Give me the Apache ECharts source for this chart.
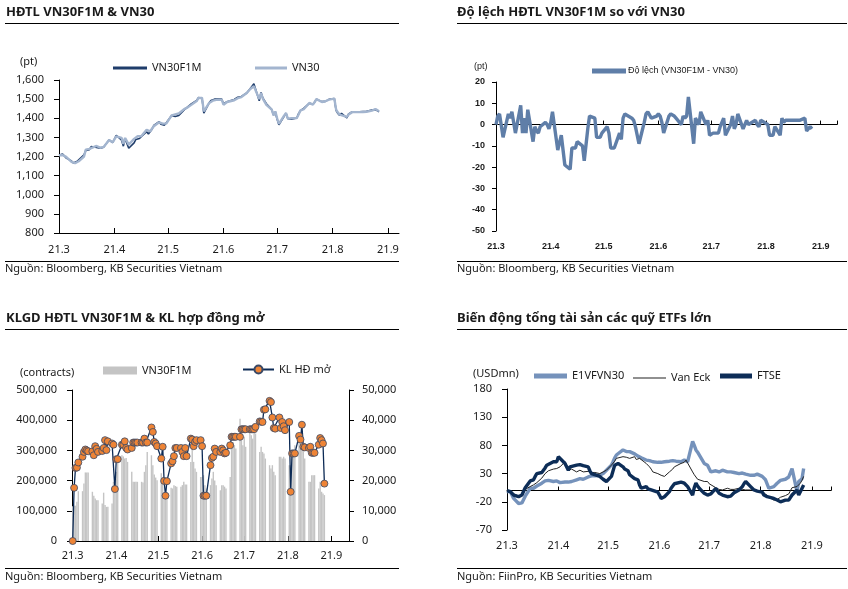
<!DOCTYPE html>
<html><head><meta charset="utf-8">
<script src="https://cdn.jsdelivr.net/npm/echarts@6/dist/echarts.min.js"></script>
<style>html,body{margin:0;padding:0;background:#fff}#c{width:848px;height:589px}</style>
</head><body><div id="c"></div><script>
// ---------- DATA (trading days 2021-03-01 .. 2021-08-27) ----------
const startDate = '2021-03-01';
const endDate = '2021-08-27';
const monthTicks = ['21.3','21.4','21.5','21.6','21.7','21.8','21.9'];

// Panel 1: VN30F1M & VN30 (pt)
const vn30f1m = [
 1206,1214,1213,1208,1192,1177,1166,1171,1174,1171,1209,1232,1241,1236,1252,1247,1249,1243,1244,1249,1287,1280,1272,
 1273,1311,1285,1254,1292,1285,1243,1271,1289,1295,1294,1298,1330,1318,1314,1343,1362,1382,1369,1366,1364,1368,
 1414,1414,1409,1411,1414,1444,1445,1460,1467,1475,1493,1508,1507,1505,1427,1481,1493,1498,1500,1499,1501,
 1476,1482,1486,1483,1498,1502,1510,1512,1514,1532,1544,1556,1564,1580,1491,1535,1506,1497,1476,1445,1417,1431,
 1395,1366,1411,1426,1397,1403,1395,1401,1424,1439,1445,1453,1478,1470,1473,1485,1500,1487,1488,1488,1494,1499,
 1503,1440,1425,1414,1426,1402,1423,1431,1434,1432,1434,1434,1435,1438,1436,1443,1442,1445,1445,1434];
const vn30 = [
 1206,1210,1208,1203,1198,1172,1163,1165,1168,1175,1200,1236,1238,1240,1245,1255,1250,1246,1248,1250,1286,1280,1274,
 1272,1305,1297,1266,1297,1290,1262,1292,1300,1306,1305,1306,1340,1335,1331,1345,1358,1379,1375,1372,1370,1372,
 1415,1418,1420,1422,1425,1448,1452,1457,1462,1470,1490,1506,1508,1506,1436,1480,1488,1492,1494,1496,1497,
 1471,1478,1485,1487,1494,1497,1505,1508,1511,1532,1540,1553,1560,1567,1500,1532,1503,1497,1470,1445,1415,1436,
 1400,1370,1415,1427,1398,1400,1400,1401,1420,1441,1445,1448,1480,1472,1471,1485,1500,1485,1488,1489,1492,1497,
 1503,1445,1430,1419,1427,1407,1420,1430,1432,1430,1432,1432,1433,1436,1434,1440,1445,1448,1446,1436];

// Panel 2: basis VN30F1M - VN30 (pt)
const basis = [
 0,4,5,5,-6,5,3,6,6,-4,9,-4,3,-4,7,-8,-1,-3,-4,-1,1,0,-2,
 1,6,-12,-12,-5,-5,-19,-21,-11,-11,-11,-8,-10,-17,-17,-2,4,3,-6,-6,-6,-4,
 -1,-4,-11,-11,-11,-4,-7,3,5,5,3,2,-1,-1,-9,1,5,6,6,3,4,
 5,4,1,-4,4,5,5,4,3,0,4,3,4,13,-9,3,3,0,6,0,2,-5,
 -5,-4,-4,-1,-1,3,-5,0,4,-2,0,5,-2,-2,2,0,0,2,0,-1,2,2,
 0,-5,-5,-5,-1,-5,3,1,2,2,2,2,2,2,2,3,-3,-3,-1,-2];

// Panel 3: VN30F1M volume (contracts, left axis) & open interest (right axis)
const volume = [
 115e3,117e3,117e3,130e3,165e3,165e3,190e3,227e3,227e3,227e3,163e3,150e3,141e3,135e3,135e3,124e3,160e3,119e3,113e3,113e3,124e3,196e3,196e3,
 229e3,262e3,284e3,280e3,273e3,275e3,262e3,229e3,196e3,196e3,196e3,196e3,196e3,194e3,229e3,251e3,295e3,284e3,251e3,220e3,210e3,201e3,
 224e3,212e3,152e3,141e3,152e3,176e3,174e3,185e3,182e3,180e3,180e3,185e3,196e3,187e3,187e3,262e3,306e3,262e3,240e3,229e3,212e3,
 212e3,218e3,185e3,174e3,185e3,207e3,229e3,200e3,185e3,168e3,185e3,185e3,180e3,174e3,212e3,306e3,328e3,317e3,306e3,405e3,334e3,317e3,
 345e3,312e3,361e3,350e3,339e3,361e3,356e3,295e3,312e3,295e3,290e3,273e3,251e3,240e3,251e3,229e3,218e3,279e3,279e3,273e3,279e3,273e3,
 251e3,251e3,279e3,295e3,317e3,356e3,339e3,312e3,306e3,273e3,196e3,196e3,218e3,218e3,218e3,174e3,196e3,163e3,157e3,152e3];
const openInterest = [
 0,17600,24200,24300,26000,27900,29500,30300,30000,29700,29700,28400,31400,30500,29500,29800,30800,33400,30100,33000,32300,31900,17200,
 27100,27100,31900,31900,33000,30800,30300,30800,32600,32600,32600,32600,32600,32600,33900,32600,32600,37600,36100,32800,32300,31400,
 27300,31200,19900,15000,19800,25700,26400,28100,30800,30800,30800,29500,28100,30800,28100,33900,33600,31400,32800,33400,33400,
 31400,15000,15000,15000,25100,27500,27900,30600,29500,29500,30600,30000,29000,29200,31700,34500,34500,34500,34500,34500,37000,37000,
 37000,37000,37000,37000,37000,37000,37800,39600,39500,39400,43500,43600,46400,46000,40900,37400,37200,40900,37400,39400,38000,36700,
 39400,16300,29000,29000,29000,34800,33600,38500,31200,31000,30800,31200,29200,29200,29200,31900,34100,33400,32300,19000];

// Panel 4: ETF total asset change (USDmn)
const e1vfvn30 = [
 -2,-2,-2,-8,-14,-23,-24,-22,-20,-10,4,4,4,4,8,13,14,17,19,18,16,16,17,
 17,14,15,13,15,17,16,19,20,21,20,20,24,25,26,27,26,27,28,30,33,36,
 45,51,58,63,66,72,70,69,69,69,65,63,61,60,58,54,54,53,52,51,50,
 49,50,51,51,52,53,53,52,52,51,52,54,51,51,87,80,72,68,66,48,48,45,
 42,33,35,34,33,34,36,33,32,33,33,32,30,30,31,30,29,27,27,27,28,29,
 25,22,19,16,4,7,10,13,16,18,20,21,24,27,39,-2,16,18,21,39];
const vanEck = [
 0,0,-1,-3,-6,-10,-8,-5,-2,2,7,8,10,12,14,22,25,30,33,35,38,39,39,
 40,42,51,45,36,37,38,33,35,36,34,33,34,36,32,30,32,30,32,33,35,36,
 45,48,52,57,59,60,59,59,58,57,60,55,56,57,54,48,45,42,38,33,30,
 28,27,26,25,33,35,38,42,44,48,49,50,54,52,33,28,25,20,19,16,16,16,
 12,10,5,4,2,1,1,4,3,2,1,2,4,3,2,2,1,1,1,1,0,0,
 -2,-4,-6,-8,-12,-17,-17,-16,-14,-12,-9,-8,-6,-5,5,7,10,13,18,25];
const ftse = [
 0,0,-2,-5,-8,-11,-10,-8,-5,5,17,18,19,25,30,32,33,40,45,47,51,51,51,
 60,61,48,45,36,42,45,45,45,46,47,44,42,35,30,29,28,25,23,20,17,16,
 25,35,45,47,48,42,38,36,35,28,21,20,19,10,4,7,3,1,1,1,-3,
 -8,-14,-17,-11,-2,4,7,12,14,15,13,13,10,7,-8,5,13,8,4,-5,-8,-8,
 -8,-6,4,-1,-5,-7,-8,-11,-11,-10,-8,-4,1,4,7,12,16,7,4,1,-2,-1,
 -3,-8,-9,-11,-13,-14,-15,-17,-18,-20,-17,-17,-17,-16,-8,1,-8,-2,-2,10];

// ---------- trading-day categories ----------
function tradingDays(a, b) {
  const out = [];
  const d = new Date(a + 'T00:00:00Z'), e = new Date(b + 'T00:00:00Z');
  while (d <= e) {
    const w = d.getUTCDay();
    if (w !== 0 && w !== 6) out.push(d.toISOString().slice(0, 10));
    d.setUTCDate(d.getUTCDate() + 1);
  }
  return out;
}
const dates = tradingDays(startDate, endDate);
const pairs = arr => dates.map((d, i) => [d, arr[i]]);

// ---------- styling ----------
const FONT = '"Noto Sans", sans-serif';
const TXT = '#1a1a1a';
const monthLabel = v => { const d = new Date(v); return monthTicks[d.getMonth() - 2] || ''; };
const comma = v => Number(v).toLocaleString('en-US');
const DAY = 86400000;

function timeAxis(grid, max, extra) {
  return Object.assign({
    type: 'time', gridIndex: grid, min: startDate, max: max,
    splitNumber: 6, minInterval: 28 * DAY, maxInterval: 31 * DAY,
    axisLine: { show: true, onZero: false, lineStyle: { color: '#000', width: 1 } },
    axisTick: { show: true, inside: true, length: 5, lineStyle: { color: '#000' } },
    axisLabel: { formatter: monthLabel, color: TXT, fontSize: 11, fontFamily: FONT, margin: 10, hideOverlap: false },
    splitLine: { show: false }, minorTick: { show: false }
  }, extra || {});
}
function valAxis(grid, min, max, interval, extra) {
  return Object.assign({
    type: 'value', gridIndex: grid, min, max, interval,
    axisLine: { show: true, lineStyle: { color: '#000', width: 1 } },
    axisTick: { show: true, inside: false, length: 5, lineStyle: { color: '#000' } },
    axisLabel: { color: TXT, fontSize: 11, fontFamily: FONT, margin: 15 },
    splitLine: { show: false }
  }, extra || {});
}
const p2Label = { color: TXT, fontSize: 9, fontFamily: '"Liberation Sans", Arial, sans-serif', fontWeight: 'bold' };

const graphicText = (x, y, text, font) => ({
  type: 'text', x, y, silent: true,
  style: { text, font, fill: TXT, verticalAlign: 'middle', align: 'left' }
});
const rule = (x1, x2, y) => ({ type: 'line', silent: true, shape: { x1, y1: y, x2, y2: y }, style: { stroke: '#000', lineWidth: 1 } });
const TITLE = 'bold 13px "Noto Sans"';
const SRC = '11px "Noto Sans"';
const LEG_TEXT = { fontSize: 11, fontFamily: FONT, color: TXT };
// one legend component per item, line samples drawn as thin rectangles
function lineLegend(name, left, centerY, width, thick, text) {
  return { left, top: centerY - thick / 2, itemWidth: width, itemHeight: thick, itemGap: 0,
    data: [{ name, icon: 'rect' }], textStyle: text || LEG_TEXT, padding: 0 };
}

const C_F1M = '#1f3d6b', C_VN30 = '#a3b5cf', C_DEV = '#5f7ea8', C_E1 = '#7592bb', C_VE = '#222', C_FTSE = '#0d2d57';

const option = {
  animation: false,
  backgroundColor: '#fff',
  textStyle: { fontFamily: FONT },
  grid: [
    { left: 59, top: 80, width: 340, height: 153, outerBoundsMode: 'none', containLabel: false },
    { left: 496, top: 82, width: 341, height: 149, outerBoundsMode: 'none', containLabel: false },
    { left: 72, top: 390, width: 277, height: 151, outerBoundsMode: 'none', containLabel: false },
    { left: 507, top: 389, width: 324, height: 141, outerBoundsMode: 'none', containLabel: false }
  ],
  xAxis: [
    timeAxis(0, '2021-09-07 04:00', { axisLabel: { formatter: monthLabel, color: TXT, fontSize: 11, fontFamily: FONT, margin: 11 } }),
    timeAxis(1, '2021-09-10 05:00', {
      position: 'bottom', axisLine: { show: false, onZero: false }, axisTick: { show: false },
      axisLabel: Object.assign({ formatter: monthLabel, margin: 11 }, p2Label)
    }),
    timeAxis(1, '2021-09-10 05:00', {
      position: 'top', axisLine: { show: true, onZero: true, lineStyle: { color: '#000', width: 1 } },
      axisTick: { show: true, inside: false, length: 4, lineStyle: { color: '#000' } }, axisLabel: { show: false }
    }),
    timeAxis(2, '2021-09-13 00:00', { axisLabel: { formatter: monthLabel, color: TXT, fontSize: 11, fontFamily: FONT, margin: 9 } }),
    timeAxis(3, '2021-09-12 12:00', {
      position: 'bottom', axisLine: { show: false, onZero: false }, axisTick: { show: false },
      axisLabel: { formatter: monthLabel, color: TXT, fontSize: 11, fontFamily: FONT, margin: 10 }
    }),
    timeAxis(3, '2021-09-12 12:00', {
      position: 'top', axisLine: { show: true, onZero: true, lineStyle: { color: '#000', width: 1 } },
      axisTick: { show: true, inside: false, length: 4, lineStyle: { color: '#000' } }, axisLabel: { show: false }
    })
  ],
  yAxis: [
    valAxis(0, 800, 1600, 100, { axisLabel: { color: TXT, fontSize: 11, fontFamily: FONT, margin: 15, formatter: comma } }),
    valAxis(1, -50, 20, 10, { axisTick: { show: true, length: 4, lineStyle: { color: '#000' } }, axisLabel: Object.assign({ margin: 11 }, p2Label) }),
    valAxis(2, 0, 500000, 100000, { position: 'left', axisLabel: { color: TXT, fontSize: 11, fontFamily: FONT, margin: 15, formatter: comma } }),
    valAxis(2, 0, 50000, 10000, { position: 'right', axisLabel: { color: TXT, fontSize: 11, fontFamily: FONT, margin: 13, formatter: comma } }),
    valAxis(3, -70, 180, 50, { axisLabel: { color: TXT, fontSize: 11, fontFamily: FONT, margin: 15 } })
  ],
  legend: [
    lineLegend('VN30F1M', 113, 64, 34, 3),
    lineLegend('VN30', 255, 64, 32, 3),
    lineLegend('Độ lệch (VN30F1M - VN30)', 592, 69, 34, 5,
      { fontSize: 9, fontFamily: '"Liberation Sans", Arial, sans-serif', color: TXT, padding: [0, 0, 0, -3] }),
    lineLegend('VN30F1M ', 103, 369, 34, 8),
    { left: 242, top: 364, itemWidth: 31, itemHeight: 10, padding: 0, data: ['KL HĐ mở'], textStyle: LEG_TEXT },
    lineLegend('E1VFVN30', 534, 373, 33, 5),
    lineLegend('Van Eck', 633, 373, 33, 1),
    lineLegend('FTSE', 720, 373, 32, 5)
  ],
  series: [
    { name: 'VN30F1M', type: 'line', xAxisIndex: 0, yAxisIndex: 0, data: pairs(vn30f1m), symbol: 'none',
      lineStyle: { color: C_F1M, width: 1.6 }, itemStyle: { color: C_F1M } },
    { name: 'VN30', type: 'line', xAxisIndex: 0, yAxisIndex: 0, data: pairs(vn30), symbol: 'none',
      lineStyle: { color: C_VN30, width: 2.4 }, itemStyle: { color: C_VN30 } },
    { name: 'Độ lệch (VN30F1M - VN30)', type: 'line', xAxisIndex: 1, yAxisIndex: 1, data: pairs(basis), symbol: 'none',
      lineStyle: { color: C_DEV, width: 3.4 }, itemStyle: { color: C_DEV } },
    { name: 'VN30F1M ', type: 'bar', xAxisIndex: 3, yAxisIndex: 2, data: pairs(volume), barWidth: 1.4,
      itemStyle: { color: '#c4c4c4' } },
    { name: 'KL HĐ mở', type: 'line', xAxisIndex: 3, yAxisIndex: 3, data: pairs(openInterest),
      symbol: 'circle', symbolSize: 7, lineStyle: { color: '#0c2a55', width: 1.3 },
      itemStyle: { color: '#ee8436', borderColor: '#3a4966', borderWidth: 0.8 } },
    { name: 'E1VFVN30', type: 'line', xAxisIndex: 4, yAxisIndex: 4, data: pairs(e1vfvn30), symbol: 'none',
      lineStyle: { color: C_E1, width: 3.4 }, itemStyle: { color: C_E1 } },
    { name: 'Van Eck', type: 'line', xAxisIndex: 4, yAxisIndex: 4, data: pairs(vanEck), symbol: 'none',
      lineStyle: { color: C_VE, width: 1 }, itemStyle: { color: C_VE } },
    { name: 'FTSE', type: 'line', xAxisIndex: 4, yAxisIndex: 4, data: pairs(ftse), symbol: 'none',
      lineStyle: { color: C_FTSE, width: 3.4 }, itemStyle: { color: C_FTSE } }
  ],
  graphic: [
    graphicText(6, 12, 'HĐTL VN30F1M & VN30', TITLE),
    graphicText(457, 12, 'Độ lệch HĐTL VN30F1M so với VN30', TITLE),
    graphicText(6, 318, 'KLGD HĐTL VN30F1M & KL hợp đồng mở', TITLE),
    graphicText(457, 318, 'Biến động tổng tài sản các quỹ ETFs lớn', TITLE),
    rule(5, 399, 23.5), rule(457, 847, 23.5), rule(5, 399, 329.5), rule(457, 847, 329.5),
    rule(5, 399, 261.5), rule(457, 847, 261.5), rule(5, 399, 568.5), rule(457, 847, 568.5),
    graphicText(5, 269, 'Nguồn: Bloomberg, KB Securities Vietnam', SRC),
    graphicText(457, 269, 'Nguồn: Bloomberg, KB Securities Vietnam', SRC),
    graphicText(5, 577, 'Nguồn: Bloomberg, KB Securities Vietnam', SRC),
    graphicText(457, 577, 'Nguồn: FiinPro, KB Securities Vietnam', SRC),
    graphicText(20, 62, '(pt)', '11px "Noto Sans"'),
    graphicText(474, 67, '(pt)', '9px "Liberation Sans"'),
    graphicText(20, 373, '(contracts)', '11px "Noto Sans"'),
    graphicText(473, 374, '(USDmn)', '11px "Noto Sans"')
  ]
};
const chart = echarts.init(document.getElementById('c'), null, { renderer: 'canvas' });
chart.setOption(option);
</script></body></html>
